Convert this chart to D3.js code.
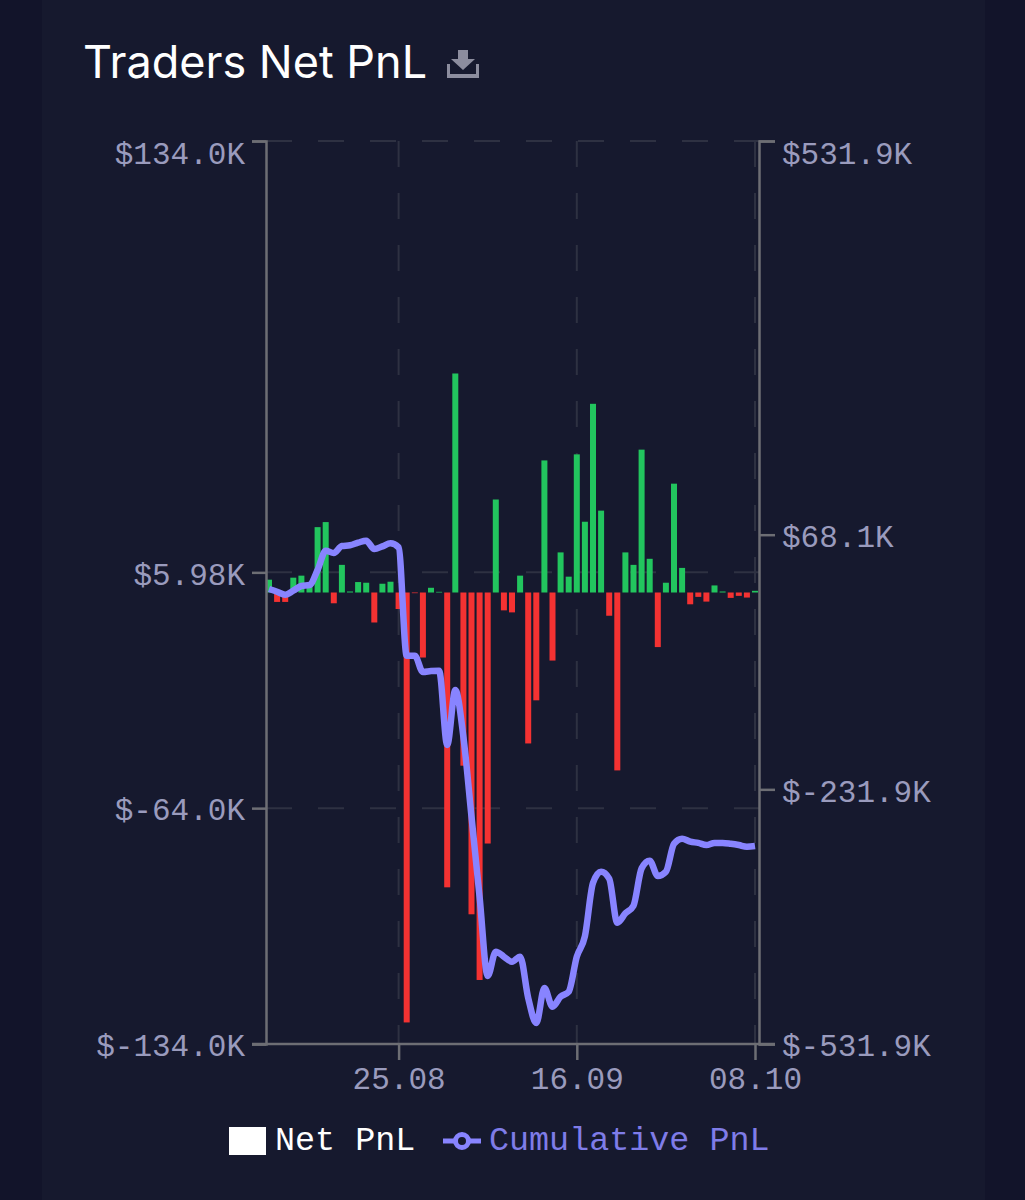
<!DOCTYPE html>
<html>
<head>
<meta charset="utf-8">
<script src="https://cdnjs.cloudflare.com/ajax/libs/d3/7.8.5/d3.min.js"></script>
<style>
html, body { margin: 0; padding: 0; background: #12142a; }
text { font-family: "Liberation Mono", monospace; }
</style>
</head>
<body>
<div id="chart"></div>
<script>
var svgWidth = 1025;
var svgHeight = 1200;

// daily net pnl, $K
var netPnl = [3.8, -2.8, -2.8, 4.4, 5.0, 2.9, 19.4, 20.9, -3.2, 8.2, 0.3, 3.1, 2.9, -8.9, 2.6, 3.2,
    -4.9, -127.6, -0.2, -19.3, 1.4, 0.2, -87.5, 65, -51.4, -95.5, -115, -74.5, 27.6, -5.3, -5.9, 5.0,
    -44.8, -32, 39.2, -20.2, 11.9, 4.7, 41, 21, 56, 24.3, -6.9, -52.8, 11.9, 8.2, 42.4, 10, -16.2,
    2.9, 32.3, 7.3, -3.5, -1.3, -2.7, 2.1, 0.3, -1.6, -1.0, -1.5, 0.5];

// cumulative pnl, $K (right axis)
var cumPnl = [4.1, 0.9, -2.6, 2.1, 7.7, 8.8, 26.5, 49.2, 46.5, 54.8, 55.6, 58.7, 61, 51.2, 54.4, 58,
    53.2, -74.5, -74.5, -93.7, -92.5, -92.1, -179.6, -114.9, -170.2, -264.1, -358.7, -451.8, -423.1, -429, -434.9, -429,
    -477.7, -507.1, -465.9, -487.9, -476.1, -470.3, -429, -405, -342, -329, -337, -389, -378, -369, -325, -316, -334,
    -329, -296, -290, -293.5, -295, -297.5, -295, -295, -296, -297.5, -299.5, -298.6];

var leftTicks = [134, 5.98, -64, -134];
var leftLabels = ["$134.0K", "$5.98K", "$-64.0K", "$-134.0K"];
var rightTicks = [531.9, 68.1, -231.9, -531.9];
var rightLabels = ["$531.9K", "$68.1K", "$-231.9K", "$-531.9K"];
var dateTicks = [16, 38, 60];
var dateLabels = ["25.08", "16.09", "08.10"];

var svg = d3.select("#chart").append("svg")
    .attr("width", svgWidth)
    .attr("height", svgHeight)
    .style("display", "block");

svg.append("rect").attr("x", 42).attr("width", 943).attr("height", svgHeight).attr("fill", "#16192e");

// title
svg.append("text")
    .attr("x", 83).attr("y", 78)
    .attr("fill", "#ffffff")
    .style("font-family", "Inter")
    .style("font-weight", 400)
    .style("font-size", "45px")
    .text("Traders Net PnL");

// download icon
var icon = svg.append("g").attr("fill", "#8c8d9e");
icon.append("path").attr("d", "M458 50h10v9h7l-12 11-12-11h7z");
icon.append("path").attr("d", "M447 64h3v10h26v-10h3v14h-32z");

var x = d3.scaleLinear().domain([0, 60]).range([269, 755]);
var yLeft = d3.scaleLinear().domain([-134, 134]).range([1044, 141]);
var yRight = d3.scaleLinear().domain([-531.9, 531.9]).range([1044, 141]);

var chartGroup = svg.append("g");

// dashed grid
var gridColor = "#2e3142";
chartGroup.selectAll(".hgrid").data([134, 5.98, -64]).enter().append("line")
    .attr("x1", 266).attr("x2", 759)
    .attr("y1", d => yLeft(d)).attr("y2", d => yLeft(d))
    .attr("stroke", gridColor).attr("stroke-width", 2).attr("stroke-dasharray", "26 26");
chartGroup.selectAll(".vgrid").data(dateTicks).enter().append("line")
    .attr("x1", d => x(d)).attr("x2", d => x(d))
    .attr("y1", 141).attr("y2", 1044)
    .attr("stroke", gridColor).attr("stroke-width", 2).attr("stroke-dasharray", "26 26");

// bars
chartGroup.selectAll(".bar").data(netPnl).enter().append("rect")
    .attr("x", (d, i) => x(i) - 3)
    .attr("width", 6)
    .attr("y", d => d > 0 ? yLeft(d) : yLeft(0))
    .attr("height", d => Math.abs(yLeft(d) - yLeft(0)))
    .attr("fill", d => d > 0 ? "#22c55e" : "#f43232");

// axes
var leftAxis = d3.axisLeft(yLeft).tickValues(leftTicks).tickFormat((d, i) => leftLabels[i]).tickSize(14).tickPadding(7);
var rightAxis = d3.axisRight(yRight).tickValues(rightTicks).tickFormat((d, i) => rightLabels[i]).tickSize(16).tickPadding(7);
var bottomAxis = d3.axisBottom(x).tickValues(dateTicks).tickFormat((d, i) => dateLabels[i]).tickSize(16).tickPadding(7);

var axisColor = "#6d6e74";
var labelColor = "#9a9bbd";

function styleAxis(g) {
    g.select(".domain").attr("stroke", axisColor).attr("stroke-width", 2.5);
    g.selectAll(".tick line").attr("stroke", axisColor).attr("stroke-width", 2.5);
    g.selectAll("text").attr("fill", labelColor).style("font-size", "31px").style("font-family", "Liberation Mono");
}

chartGroup.append("g").attr("transform", "translate(266,0)").call(leftAxis).call(styleAxis);
chartGroup.append("g").attr("transform", "translate(759,0)").call(rightAxis).call(styleAxis);
chartGroup.append("g").attr("transform", "translate(0,1044)").call(bottomAxis).call(styleAxis)
    .call(g => g.select(".domain").remove());
chartGroup.append("line").attr("x1", 252).attr("x2", 775).attr("y1", 1044).attr("y2", 1044)
    .attr("stroke", axisColor).attr("stroke-width", 2.5);

// top labels sit below their tick
chartGroup.selectAll("g.tick text").filter(d => d !== 16 && d !== 38 && d !== 60).attr("dy", function (d) {
    return (d === 134 || d === 531.9) ? "0.72em" : "0.38em";
});

// cumulative line
var line = d3.line()
    .x((d, i) => x(i))
    .y(d => yRight(d))
    .curve(d3.curveMonotoneX);

chartGroup.append("path")
    .datum(cumPnl)
    .attr("d", line)
    .attr("fill", "none")
    .attr("stroke", "#8884ff")
    .attr("stroke-width", 6.5);

// legend
var legend = svg.append("g").style("font-size", "33.4px");
legend.append("rect").attr("x", 229).attr("y", 1127).attr("width", 37).attr("height", 28).attr("fill", "#ffffff");
legend.append("text").attr("x", 275).attr("y", 1150).attr("fill", "#ffffff").text("Net PnL");
legend.append("line").attr("x1", 443).attr("x2", 481).attr("y1", 1141).attr("y2", 1141).attr("stroke", "#8884ff").attr("stroke-width", 5);
legend.append("circle").attr("cx", 462).attr("cy", 1141).attr("r", 6.5).attr("fill", "#16192e").attr("stroke", "#8884ff").attr("stroke-width", 5);
legend.append("text").attr("x", 489).attr("y", 1150).attr("fill", "#7f7ce8").text("Cumulative PnL");
</script>
</body>
</html>
